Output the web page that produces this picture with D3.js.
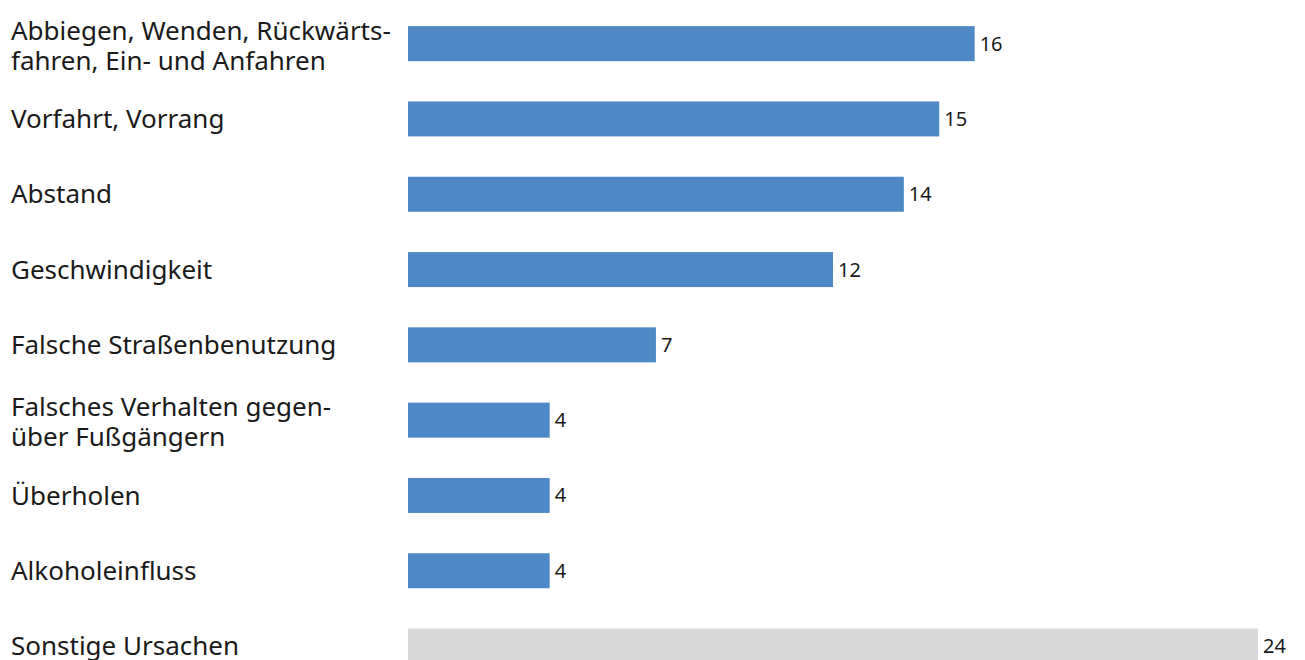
<!DOCTYPE html>
<html>
<head>
  <meta charset="utf-8">
  <script src="https://d3js.org/d3.v7.min.js"></script>
  <style>
    body { margin: 0; background: #fff; }
    .cat { font-family: 'Noto Sans', sans-serif; font-size: 26px; fill: #1a1a1a; }
    .val { font-family: 'Noto Sans', sans-serif; font-size: 20px; fill: #1a1a1a; }
  </style>
</head>
<body>
<div id="chart"></div>
<script>
  // categories (each entry = lines of the label)
  var categories = [
    ["Abbiegen, Wenden, Rückwärts-", "fahren, Ein- und Anfahren"],
    ["Vorfahrt, Vorrang"],
    ["Abstand"],
    ["Geschwindigkeit"],
    ["Falsche Straßenbenutzung"],
    ["Falsches Verhalten gegen-", "über Fußgängern"],
    ["Überholen"],
    ["Alkoholeinfluss"],
    ["Sonstige Ursachen"]
  ];
  var values = [16, 15, 14, 12, 7, 4, 4, 4, 24];
  var isOther = [false, false, false, false, false, false, false, false, true];

  var width = 1305, height = 660;
  var svg = d3.select("#chart").append("svg")
      .attr("width", width)
      .attr("height", height);

  var keys = categories.map(function(d) { return d.join(" "); });

  // x scale: 0 at 408, ~35.45 px per unit
  var x = d3.scaleLinear().domain([0, 24]).range([408, 1258]);

  var y = d3.scaleBand()
      .domain(keys)
      .range([6, 6 + 9 * 75.3])
      .paddingInner(0.535)
      .paddingOuter(0.2675);

  var rows = svg.selectAll("g.row")
      .data(keys)
      .enter().append("g")
      .attr("class", "row");

  rows.append("rect")
      .attr("x", x(0))
      .attr("y", function(d) { return y(d); })
      .attr("width", function(d, i) { return x(values[i]) - x(0); })
      .attr("height", y.bandwidth())
      .attr("fill", function(d, i) { return isOther[i] ? "#d9d9d9" : "#4f88c7"; });

  rows.append("text")
      .attr("class", "val")
      .attr("x", function(d, i) { return x(values[i]) + 5; })
      .attr("y", function(d) { return y(d) + y.bandwidth() / 2; })
      .attr("dy", "0.35em")
      .text(function(d, i) { return values[i]; });

  // category labels, multi-line ones centred on the bar
  var lineH = 30;
  rows.each(function(d, i) {
    var lines = categories[i];
    var cy = y(d) + y.bandwidth() / 2 + (lines.length > 1 ? 2 : 0);
    var t = d3.select(this).append("text")
        .attr("class", "cat")
        .attr("x", 11);
    lines.forEach(function(l, j) {
      t.append("tspan")
          .attr("x", 11)
          .attr("y", cy + (j - (lines.length - 1) / 2) * lineH)
          .attr("dy", "0.35em")
          .text(l);
    });
  });
</script>
</body>
</html>
